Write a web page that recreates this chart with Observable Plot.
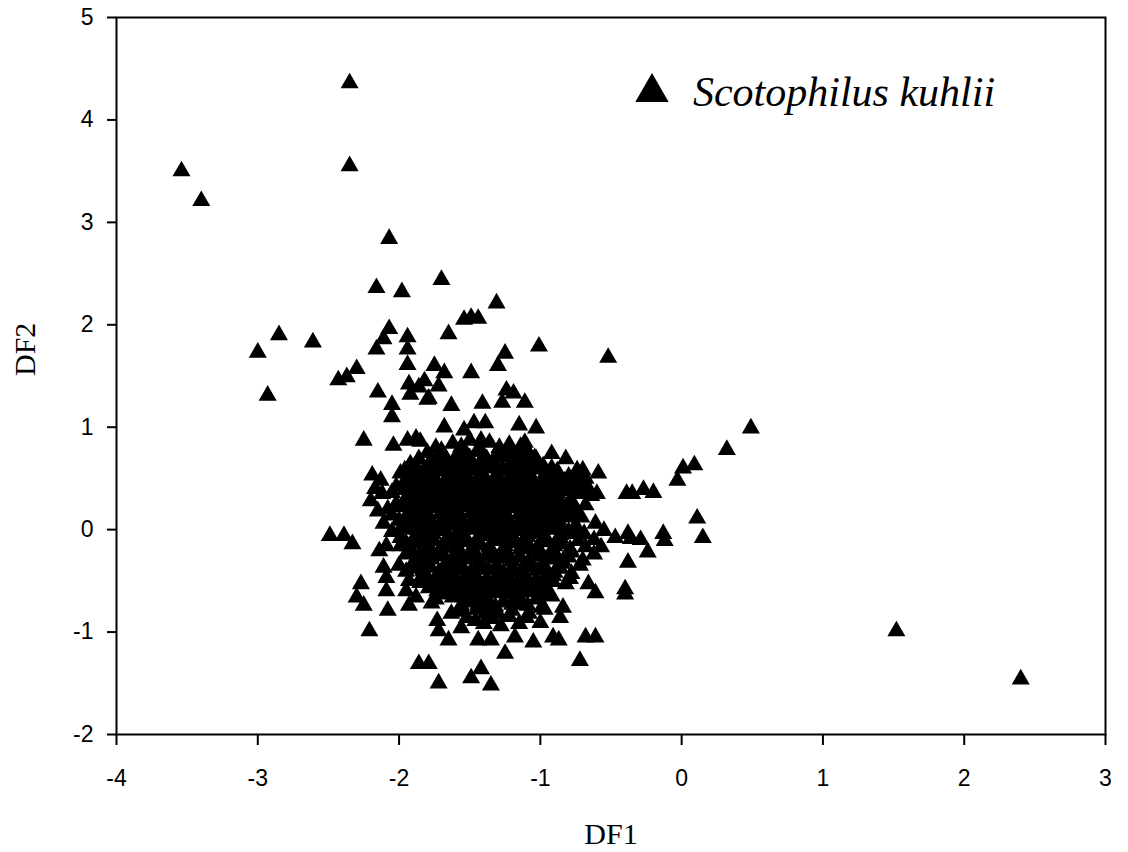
<!DOCTYPE html>
<html>
<head>
<meta charset="utf-8">
<script src="https://cdn.jsdelivr.net/npm/d3@7"></script>
<script src="https://cdn.jsdelivr.net/npm/@observablehq/plot@0.6"></script>
<style>
  html, body { margin: 0; padding: 0; background: #fff; }
  #chart { width: 1128px; height: 852px; }
</style>
</head>
<body>
<div id="chart"></div>
<script>
// Axis ticks
const xTicks = [-4, -3, -2, -1, 0, 1, 2, 3];
const yTicks = [-2, -1, 0, 1, 2, 3, 4, 5];
const xTitle = "DF1";
const yTitle = "DF2";
const seriesName = "Scotophilus kuhlii";

// DF1, DF2 scores
const upperPts = [
  [-2.35,4.36],[-2.35,3.55],[-3.54,3.50],[-3.40,3.21],[-2.07,2.84],[-1.70,2.44],[-2.16,2.36],[-1.98,2.32],
  [-1.31,2.21],[-3.00,1.73],[-2.85,1.90],[-2.61,1.83],[-2.93,1.31],[-2.43,1.46],[-2.37,1.49],[-2.30,1.57],
  [-2.07,1.96],[-2.11,1.86],[-2.16,1.76],[-1.94,1.88],[-1.94,1.76],[-1.94,1.61],[-1.65,1.91],[-1.54,2.05],
  [-1.49,2.07],[-1.44,2.06],[-2.15,1.34],[-2.05,1.22],[-2.05,1.10],[-1.93,1.42],[-1.92,1.32],[-1.82,1.45],
  [-1.75,1.60],[-1.68,1.53],[-1.72,1.40],[-1.80,1.27],[-1.63,1.21],[-1.49,1.53],[-2.25,0.87],[-1.01,1.79],
  [-0.52,1.68],[-1.25,1.72],[-1.30,1.60],[-1.24,1.36],[-1.19,1.33],[-1.11,1.24],[-1.27,1.24],[-1.41,1.23],
  [-1.47,1.04],[-1.39,1.04],[-1.15,1.02],[-1.03,0.99],[-1.54,0.97],[-2.04,0.82],[-1.94,0.87],[-1.88,0.89],
  [-1.68,1.00],[-1.42,0.87],[-1.11,0.85],[-1.86,1.39],[-1.79,1.28]
];
const leftPts = [
  [-2.19,0.53],[-2.13,0.48],[-1.99,0.55],[-2.12,0.35],[-2.11,0.06],[-2.49,-0.06],[-2.39,-0.06],[-2.33,-0.14],
  [-2.14,-0.21],[-2.09,-0.16],[-1.99,-0.16],[-1.95,-0.14],[-2.11,-0.37],[-2.09,-0.47],[-2.27,-0.53],[-2.30,-0.66],
  [-2.25,-0.74],[-2.09,-0.60],[-2.08,-0.79],[-2.21,-0.99],[-2.20,0.28],[-2.15,0.18],[-2.17,0.40]
];
const corePts = [
  [-1.85,0.86],[-1.62,0.84],[-1.50,0.87],[-1.36,0.85],[-1.22,0.83],
  [-1.80,0.75],[-1.70,0.77],[-1.57,0.74],[-1.45,0.76],[-1.31,0.73],[-1.20,0.76],[-1.08,0.74],
  [-1.92,0.64],[-1.78,0.66],[-1.66,0.63],[-1.55,0.65],[-1.44,0.62],[-1.33,0.65],[-1.21,0.63],[-1.10,0.66],[-0.98,0.62],
  [-1.88,0.53],[-1.76,0.51],[-1.63,0.54],[-1.52,0.52],[-1.41,0.55],[-1.30,0.51],[-1.17,0.53],[-1.06,0.50],[-0.95,0.54],[-0.80,0.52],[-0.68,0.50],
  [-2.02,0.42],[-1.90,0.44],[-1.79,0.41],[-1.68,0.43],[-1.56,0.40],[-1.45,0.44],[-1.34,0.42],[-1.22,0.39],[-1.11,0.43],[-1.00,0.41],[-0.90,0.44],[-0.77,0.42],[-0.66,0.40],
  [-1.95,0.31],[-1.84,0.29],[-1.72,0.32],[-1.61,0.30],[-1.50,0.33],[-1.39,0.29],[-1.27,0.31],[-1.15,0.33],[-1.04,0.29],[-0.94,0.31],[-0.78,0.28],
  [-2.08,0.20],[-1.98,0.22],[-1.86,0.19],[-1.75,0.21],[-1.64,0.18],[-1.53,0.22],[-1.42,0.20],[-1.31,0.17],[-1.19,0.21],[-1.08,0.19],[-0.97,0.22],[-0.86,0.20],[-0.74,0.18],
  [-2.00,0.09],[-1.89,0.11],[-1.77,0.08],[-1.66,0.10],[-1.55,0.07],[-1.44,0.11],[-1.33,0.09],[-1.21,0.06],[-1.10,0.10],[-0.98,0.08],
  [-2.05,-0.02],[-1.93,0.00],[-1.82,-0.03],[-1.70,-0.01],[-1.59,-0.04],[-1.48,0.00],[-1.37,-0.02],[-1.26,-0.05],[-1.14,-0.01],[-1.03,-0.03],[-0.91,0.00],[-0.80,-0.02],[-0.69,-0.04],[-0.55,-0.01],
  [-1.88,-0.13],[-1.76,-0.11],[-1.65,-0.14],[-1.53,-0.12],[-1.42,-0.15],[-1.31,-0.11],[-1.19,-0.13],[-1.08,-0.16],[-0.96,-0.12],[-0.85,-0.14],[-0.73,-0.11],
  [-1.95,-0.24],[-1.83,-0.22],[-1.71,-0.25],[-1.60,-0.23],[-1.48,-0.26],[-1.37,-0.22],[-1.26,-0.24],[-1.14,-0.27],[-1.02,-0.23],[-0.90,-0.25],[-0.78,-0.22],[-0.62,-0.24],
  [-2.00,-0.35],[-1.89,-0.33],[-1.78,-0.36],[-1.66,-0.34],[-1.55,-0.37],[-1.43,-0.33],[-1.31,-0.35],[-1.20,-0.38],[-1.08,-0.34],[-0.97,-0.36],[-0.85,-0.33],[-0.72,-0.35],
  [-1.84,-0.46],[-1.72,-0.44],[-1.61,-0.47],[-1.49,-0.45],[-1.38,-0.48],[-1.26,-0.44],[-1.14,-0.46],[-1.03,-0.49],[-0.91,-0.45],[-0.78,-0.43],
  [-1.79,-0.57],[-1.67,-0.55],[-1.55,-0.58],[-1.44,-0.56],[-1.32,-0.59],[-1.21,-0.55],[-1.09,-0.57],[-0.97,-0.54],
  [-1.74,-0.68],[-1.62,-0.66],[-1.50,-0.69],[-1.38,-0.67],[-1.26,-0.70],[-1.15,-0.66],[-1.03,-0.68],[-0.92,-0.65],
  [-1.57,-0.80],[-1.45,-0.78],[-1.32,-0.81],[-1.20,-0.79],[-1.08,-0.82],[-0.97,-0.78],
  [-1.40,-0.92],[-1.28,-0.94],[-1.00,-0.91]
];
const coreFillPts = [
  [-1.74,0.80],[-1.56,0.81],[-1.43,0.79],[-1.29,0.80],[-1.14,0.81],
  [-1.86,0.69],[-1.73,0.70],[-1.61,0.68],[-1.50,0.70],[-1.38,0.69],[-1.26,0.71],[-1.15,0.68],[-1.03,0.69],
  [-1.96,0.58],[-1.82,0.59],[-1.70,0.57],[-1.58,0.59],[-1.47,0.58],[-1.35,0.60],[-1.24,0.57],[-1.12,0.58],[-1.00,0.59],[-0.88,0.57],[-0.74,0.58],
  [-1.96,0.47],[-1.84,0.48],[-1.73,0.46],[-1.62,0.48],[-1.50,0.47],[-1.39,0.49],[-1.28,0.46],[-1.16,0.47],[-1.05,0.48],[-0.95,0.46],[-0.83,0.47],[-0.71,0.45],
  [-2.05,0.36],[-1.90,0.37],[-1.78,0.35],[-1.66,0.37],[-1.55,0.36],[-1.44,0.38],[-1.33,0.35],[-1.21,0.36],[-1.10,0.37],[-0.99,0.35],[-0.88,0.36],[-0.72,0.37],[-0.60,0.35],
  [-2.02,0.25],[-1.91,0.26],[-1.80,0.24],[-1.69,0.26],[-1.58,0.25],[-1.47,0.27],[-1.36,0.24],[-1.25,0.25],[-1.13,0.26],[-1.02,0.24],[-0.91,0.25],[-0.80,0.26],[-0.68,0.24],
  [-2.05,0.14],[-1.94,0.15],[-1.83,0.13],[-1.71,0.15],[-1.60,0.14],[-1.49,0.16],[-1.38,0.13],[-1.27,0.14],[-1.15,0.15],[-1.04,0.13],[-0.93,0.14],[-0.78,0.15],
  [-1.98,0.03],[-1.87,0.04],[-1.76,0.02],[-1.64,0.04],[-1.53,0.03],[-1.42,0.05],[-1.31,0.02],[-1.20,0.03],[-1.08,0.04],[-0.97,0.02],[-0.86,0.03],[-0.75,0.04],
  [-1.99,-0.08],[-1.88,-0.07],[-1.76,-0.09],[-1.65,-0.07],[-1.54,-0.08],[-1.43,-0.06],[-1.31,-0.09],[-1.20,-0.08],[-1.09,-0.07],[-0.97,-0.09],[-0.86,-0.08],
  [-1.92,-0.19],[-1.82,-0.18],[-1.71,-0.20],[-1.59,-0.18],[-1.48,-0.19],[-1.36,-0.17],[-1.25,-0.20],[-1.14,-0.19],[-1.02,-0.18],[-0.91,-0.20],[-0.79,-0.19],[-0.68,-0.17],
  [-1.89,-0.30],[-1.77,-0.29],[-1.66,-0.31],[-1.54,-0.29],[-1.43,-0.30],[-1.32,-0.28],[-1.20,-0.31],[-1.08,-0.30],[-0.96,-0.29],[-0.84,-0.31],[-0.70,-0.30],
  [-1.95,-0.41],[-1.83,-0.40],[-1.72,-0.42],[-1.60,-0.40],[-1.49,-0.41],[-1.37,-0.39],[-1.26,-0.42],[-1.14,-0.41],[-1.02,-0.40],[-0.90,-0.42],
  [-1.85,-0.52],[-1.73,-0.51],[-1.61,-0.53],[-1.50,-0.51],[-1.38,-0.52],[-1.27,-0.50],[-1.15,-0.53],[-1.03,-0.52],[-0.91,-0.51],
  [-1.68,-0.63],[-1.56,-0.62],[-1.44,-0.64],[-1.32,-0.62],[-1.21,-0.63],[-1.09,-0.61],[-0.98,-0.64],
  [-1.56,-0.74],[-1.44,-0.73],[-1.32,-0.75],[-1.20,-0.73],[-1.09,-0.74],
  [-1.52,-0.86],[-1.34,-0.87],[-1.22,-0.85],[-1.10,-0.86]
];
const coreDensePts = [
  [-1.68,0.72],[-1.52,0.73],[-1.40,0.71],[-1.24,0.72],[-1.12,0.70],
  [-1.88,0.61],[-1.74,0.62],[-1.62,0.60],[-1.50,0.61],[-1.38,0.62],[-1.27,0.60],[-1.15,0.61],[-1.04,0.62],[-0.92,0.60],
  [-1.92,0.50],[-1.80,0.51],[-1.67,0.49],[-1.56,0.50],[-1.44,0.51],[-1.33,0.49],[-1.22,0.50],[-1.10,0.51],[-0.99,0.49],[-0.87,0.50],[-0.75,0.51],
  [-1.96,0.39],[-1.84,0.40],[-1.73,0.38],[-1.61,0.39],[-1.50,0.40],[-1.39,0.38],[-1.28,0.39],[-1.16,0.40],[-1.05,0.38],[-0.94,0.39],[-0.82,0.40],
  [-1.89,0.28],[-1.78,0.29],[-1.66,0.27],[-1.55,0.28],[-1.44,0.29],[-1.33,0.27],[-1.21,0.28],[-1.10,0.29],[-0.99,0.27],[-0.86,0.28],
  [-1.92,0.17],[-1.81,0.18],[-1.69,0.16],[-1.58,0.17],[-1.47,0.18],[-1.36,0.16],[-1.25,0.17],[-1.13,0.18],[-1.02,0.16],[-0.91,0.17],[-0.80,0.18],
  [-1.94,0.06],[-1.83,0.07],[-1.71,0.05],[-1.60,0.06],[-1.49,0.07],[-1.38,0.05],[-1.26,0.06],[-1.15,0.07],[-1.04,0.05],[-0.92,0.06],
  [-1.88,-0.05],[-1.76,-0.04],[-1.65,-0.06],[-1.54,-0.05],[-1.42,-0.04],[-1.31,-0.06],[-1.20,-0.05],[-1.09,-0.04],[-0.97,-0.06],[-0.86,-0.05],[-0.75,-0.04],
  [-1.94,-0.16],[-1.82,-0.15],[-1.70,-0.17],[-1.59,-0.16],[-1.47,-0.15],[-1.36,-0.17],[-1.25,-0.16],[-1.13,-0.15],[-1.02,-0.17],[-0.90,-0.16],
  [-1.83,-0.27],[-1.72,-0.26],[-1.60,-0.28],[-1.49,-0.27],[-1.38,-0.26],[-1.26,-0.28],[-1.15,-0.27],[-1.03,-0.26],[-0.92,-0.28],[-0.80,-0.27],
  [-1.90,-0.38],[-1.78,-0.37],[-1.66,-0.39],[-1.55,-0.38],[-1.43,-0.37],[-1.32,-0.39],[-1.20,-0.38],[-1.09,-0.37],[-0.97,-0.39],[-0.86,-0.38],
  [-1.79,-0.49],[-1.67,-0.48],[-1.55,-0.50],[-1.44,-0.49],[-1.32,-0.48],[-1.21,-0.50],[-1.09,-0.49],[-0.97,-0.48],
  [-1.73,-0.60],[-1.61,-0.59],[-1.50,-0.61],[-1.38,-0.60],[-1.27,-0.59],[-1.15,-0.61],[-1.03,-0.60],
  [-1.50,-0.71],[-1.38,-0.72],[-1.26,-0.71],[-1.14,-0.72]
];
const lowerPts = [
  [-1.93,-0.50],[-1.95,-0.60],[-1.88,-0.66],[-1.93,-0.74],[-1.86,-0.33],[-1.77,-0.21],[-1.73,-0.50],[-1.77,-0.72],
  [-1.73,-0.89],[-1.72,-0.99],[-1.65,-1.08],[-1.63,-0.82],[-1.56,-0.96],[-1.51,-0.66],[-1.46,-0.89],[-1.44,-1.08],
  [-1.39,-0.82],[-1.35,-1.08],[-1.86,-1.31],[-1.79,-1.31],[-1.72,-1.50],[-1.49,-1.45],[-1.42,-1.36],[-1.35,-1.52],
  [-1.30,-0.82],[-1.37,-0.79],[-1.15,-0.92],[-1.18,-1.05],[-1.25,-1.21],[-1.05,-1.10],[-0.91,-1.05],[-0.87,-1.08],
  [-0.68,-1.05],[-0.61,-1.05],[-0.72,-1.28],[-0.84,-0.76],[-0.86,-0.86],[-0.96,-0.60],[-0.99,-0.76],[-0.79,-0.48],
  [-0.82,-0.53],[-0.66,-0.53],[-0.61,-0.62],[-0.40,-0.58],[-0.40,-0.63],[-0.38,-0.32],[-0.24,-0.22],[-0.47,-0.08],
  [-0.36,-0.09],[-0.62,-0.10],[-0.57,-0.17]
];
const rightPts = [
  [0.49,0.99],[0.32,0.78],[0.01,0.60],[0.09,0.63],[-0.03,0.48],[-0.39,0.35],[-0.35,0.35],[-0.27,0.39],
  [-0.20,0.36],[-0.82,0.69],[-0.70,0.58],[-0.59,0.55],[0.11,0.11],[0.15,-0.08],[-0.38,-0.04],[-0.29,-0.10],
  [-0.13,-0.04],[-0.12,-0.11],[1.52,-0.99],[2.40,-1.46],[-0.92,0.74],[-1.04,0.70],[-1.18,0.70],[-0.85,0.38],
  [-0.73,0.35],[-0.64,0.33],[-0.99,0.16],[-0.87,0.09],[-0.82,0.12],[-0.71,0.12],[-0.61,0.06]
];
// legend placement (data units)
const legendPos = [{x: -0.21, y: 4.27}];
const legendTextPos = [{x: 0.08, y: 4.27, label: seriesName}];

const points = [...upperPts, ...leftPts, ...corePts, ...coreFillPts, ...coreDensePts, ...lowerPts, ...rightPts]
  .map(([x, y]) => ({x, y}));

const sansFont = "'Liberation Sans', Arial, sans-serif";
const serifFont = "'Liberation Serif', 'Times New Roman', serif";

const chart = Plot.plot({
  width: 1128,
  height: 852,
  marginLeft: 116,
  marginRight: 23,
  marginTop: 17,
  marginBottom: 118,
  x: {domain: [-4, 3]},
  y: {domain: [-2, 5]},
  style: {fontFamily: sansFont, background: "white", color: "black"},
  marks: [
    Plot.axisX({ticks: xTicks, tickFormat: () => "", tickSize: 11, strokeWidth: 2, label: null}),
    Plot.axisY({ticks: yTicks, tickFormat: () => "", tickSize: 9, strokeWidth: 2, label: null}),
    Plot.text(xTicks, {x: d => d, frameAnchor: "bottom", dy: 35, lineAnchor: "top", text: d => String(d),
      fontFamily: sansFont, fontSize: 23, fill: "black"}),
    Plot.text(yTicks, {y: d => d, frameAnchor: "left", dx: -23, textAnchor: "end", lineAnchor: "middle", text: d => String(d),
      fontFamily: sansFont, fontSize: 23, fill: "black"}),
    Plot.dot(points, {x: "x", y: "y", symbol: "triangle", r: 6.7, fill: "black"}),
    Plot.frame({stroke: "black", strokeWidth: 2}),
    Plot.dot(legendPos, {x: "x", y: "y", symbol: "triangle", r: 12.4, fill: "black"}),
    Plot.text(legendTextPos, {x: "x", y: "y", text: "label", textAnchor: "start", lineAnchor: "middle",
      fontFamily: serifFont, fontStyle: "italic", fontSize: 42, fill: "black"}),
    Plot.text([xTitle], {frameAnchor: "bottom", dy: 100, text: d => d, lineAnchor: "middle",
      fontFamily: serifFont, fontSize: 30, fill: "black"}),
    Plot.text([yTitle], {frameAnchor: "left", dx: -91, rotate: -90, text: d => d, lineAnchor: "middle",
      fontFamily: serifFont, fontSize: 30, fill: "black"})
  ]
});
document.getElementById("chart").appendChild(chart);
</script>
</body>
</html>
